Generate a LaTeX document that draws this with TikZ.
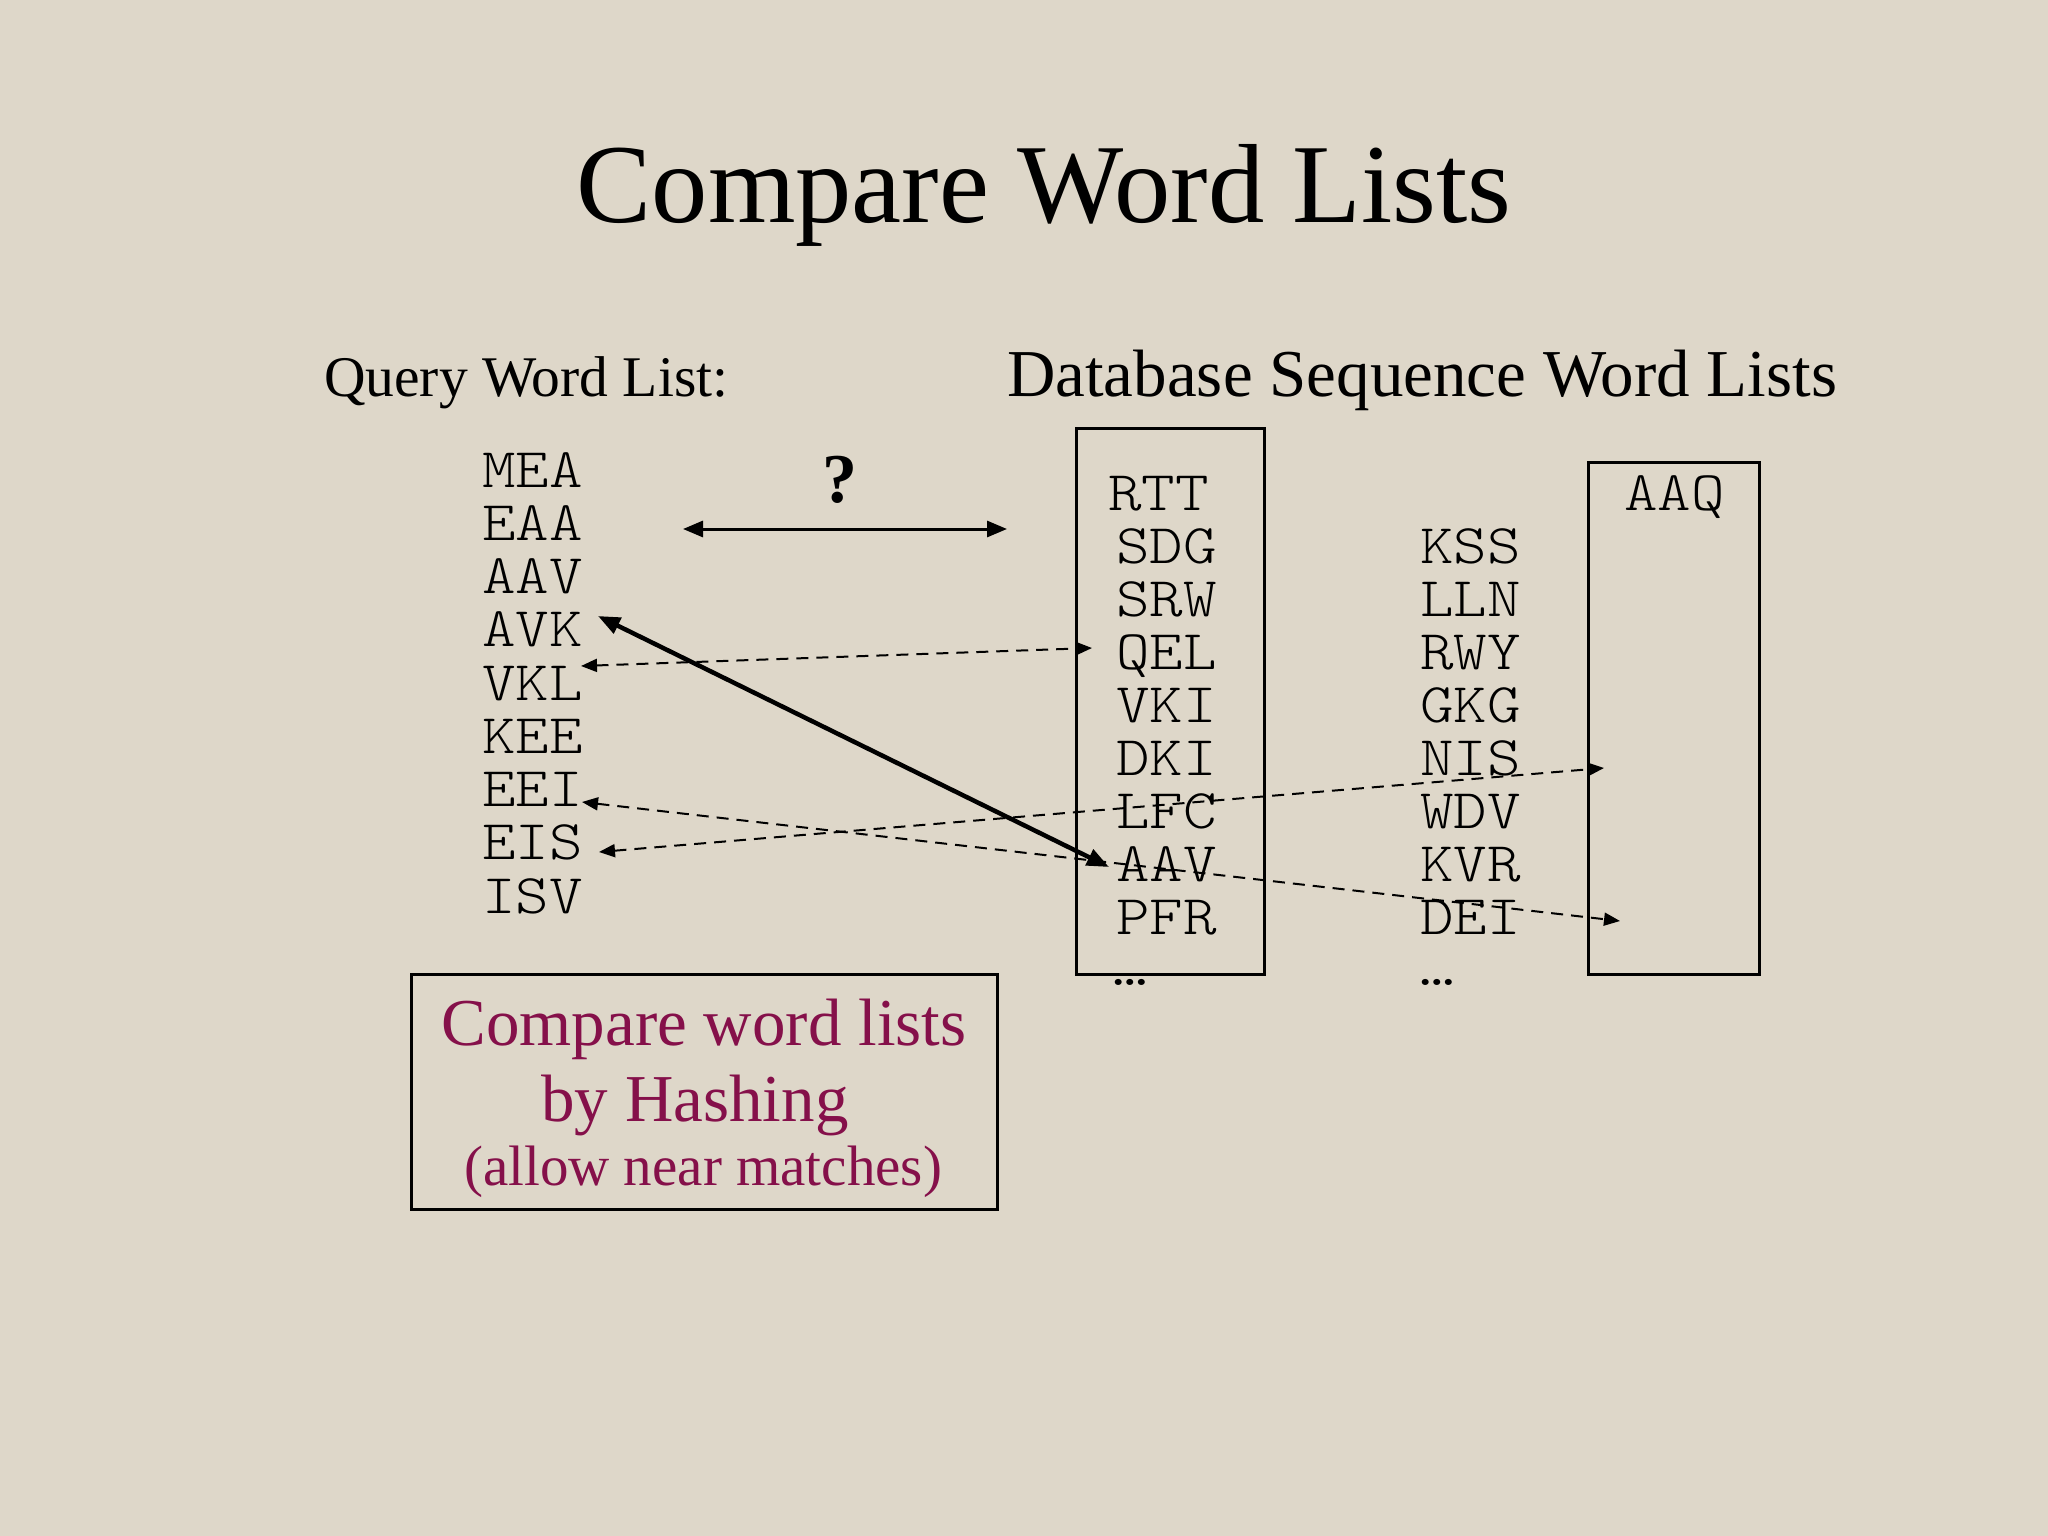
\documentclass[tikz,border=0pt]{standalone}
\usepackage{fontspec}
\setmainfont{Liberation Serif}
\newfontfamily\courfont{Latin Modern Mono Light}[FakeStretch=1.14]
\usetikzlibrary{arrows.meta}
\definecolor{bg}{HTML}{DED7C9}
\definecolor{maroon}{HTML}{85104A}
\tikzset{
  word/.style={anchor=base west, inner sep=0pt, font=\courfont\fontsize{56}{56}\selectfont},
  heading/.style={anchor=base west, inner sep=0pt},
  frame/.style={draw=black, line width=2.5pt},
  solidarrow/.style={line width=4.5pt, {Triangle[length=22pt,width=17pt]}-{Triangle[length=22pt,width=17pt]}},
  dasharrow/.style={line width=2pt, dash pattern=on 12pt off 8pt, {Triangle[length=16pt,width=13pt]}-{Triangle[length=16pt,width=13pt]}},
  hasharrow/.style={line width=3pt, {Triangle[length=20pt,width=16pt]}-{Triangle[length=20pt,width=16pt]}},
  note/.style={anchor=base, inner sep=0pt, text=maroon}
}
\begin{document}
\begin{tikzpicture}[x=1pt,y=-1pt]
\fill[bg] (0,0) rectangle (2048,1536);
\useasboundingbox (0,0) rectangle (2048,1536);

% title
\node[anchor=base, inner sep=0pt, font=\fontsize{112.5}{112.5}\selectfont] (title) at (1044,222) {Compare Word Lists};
\node[heading, font=\fontsize{57.5}{57.5}\selectfont] (qhead) at (324,396) {Query Word List:};
\node[heading, font=\fontsize{67}{67}\selectfont] (dbhead) at (1007,396) {Database Sequence Word Lists};

% query words
\foreach \w [count=\i from 0] in {MEA,EAA,AAV,AVK,VKL,KEE,EEI,EIS,ISV}
  \node[word] (q\w) at (482,487+53.25*\i) {\w};

% database list 1
\node[frame, minimum width=188pt, minimum height=546pt, anchor=north west, inner sep=0pt] (box1) at (1075,427) {};
\node[word] (dRTT) at (1108,510) {RTT};
\foreach \w [count=\i from 1] in {SDG,SRW,QEL,VKI,DKI,LFC,AAV,PFR}
  \node[word] (d\w) at (1116,510+53*\i) {\w};
\node[word] (dots1) at (1113,985) {…};

% database list 2
\foreach \w [count=\i from 1] in {KSS,LLN,RWY,GKG,NIS,WDV,KVR,DEI}
  \node[word] (e\w) at (1420,510+53*\i) {\w};
\node[word] (dots2) at (1420,985) {…};

% database list 3
\node[frame, minimum width=171pt, minimum height=512pt, anchor=north west, inner sep=0pt] (box2) at (1587,461) {};
\node[word] (fAAQ) at (1624,510) {AAQ};

% question
\node[anchor=base, inner sep=0pt, font=\bfseries\fontsize{70}{70}\selectfont] (qmark) at (840,502) {?};
\coordinate (hL) at (683,529);
\coordinate (hR) at (1007,529);
\draw[hasharrow] (hL) -- (hR);

% matches
\coordinate (sA) at (598,616);
\coordinate (sB) at (1109,867);
\draw[solidarrow] (sA) -- (sB);

\coordinate (d1A) at (581,666);
\coordinate (d1B) at (1092,648);
\draw[dasharrow] (d1A) -- (d1B);

\coordinate (d2A) at (582,802);
\coordinate (d2B) at (1620,921);
\draw[dasharrow] (d2A) -- (d2B);

\coordinate (d3A) at (599,852);
\coordinate (d3B) at (1604,768);
\draw[dasharrow] (d3A) -- (d3B);

% note box
\node[frame, minimum width=586pt, minimum height=235pt, anchor=north west, inner sep=0pt] (notebox) at (410,973) {};
\node[note, font=\fontsize{67}{67}\selectfont] (n1) at (704,1045) {Compare word lists};
\node[note, font=\fontsize{67}{67}\selectfont] (n2) at (695,1121) {by Hashing};
\node[note, font=\fontsize{57}{57}\selectfont] (n3) at (703,1185) {(allow near matches)};
\end{tikzpicture}
\end{document}
